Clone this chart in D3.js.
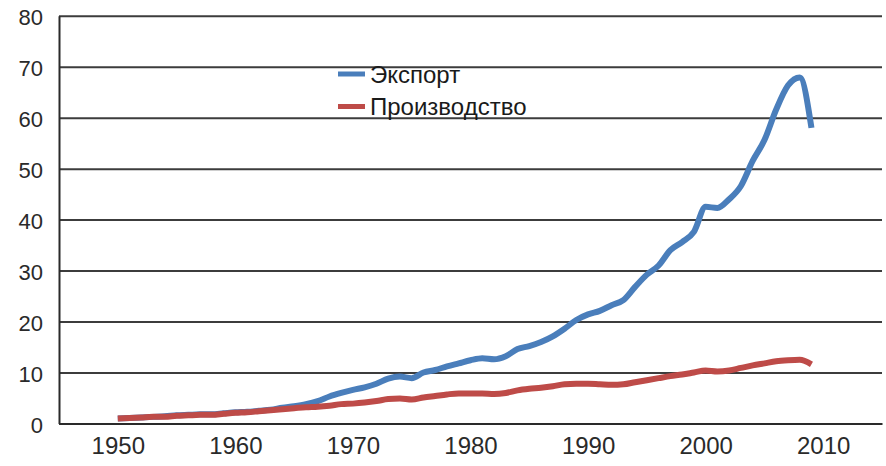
<!DOCTYPE html>
<html>
<head>
<meta charset="utf-8">
<script src="https://cdn.jsdelivr.net/npm/d3@7"></script>
<style>
  body { margin: 0; background: #fff; }
  svg { display: block; }
</style>
</head>
<body>
<svg id="chart" width="886" height="466"></svg>
<script>
// years and the two series (index, 1950 = 1)
const years = d3.range(1950, 2010);
const exportVals = [
  1.0, 1.1, 1.2, 1.3, 1.4, 1.6, 1.7, 1.8, 1.8, 2.0,
  2.2, 2.3, 2.5, 2.7, 3.1, 3.4, 3.8, 4.4, 5.3, 6.0,
  6.6, 7.1, 7.8, 8.8, 9.2, 8.9, 10.0, 10.5, 11.2, 11.8,
  12.4, 12.8, 12.6, 13.2, 14.6, 15.2, 16.0, 17.1, 18.6, 20.3,
  21.4, 22.1, 23.2, 24.2, 26.8, 29.2, 31.0, 34.0, 35.6, 37.6,
  42.5, 42.3, 44.0, 46.6, 51.5, 55.6, 61.6, 66.3, 67.9, 58.0
];
const productionVals = [
  1.0, 1.1, 1.2, 1.3, 1.3, 1.5, 1.6, 1.7, 1.7, 1.9,
  2.1, 2.2, 2.4, 2.6, 2.8, 3.0, 3.2, 3.3, 3.5, 3.8,
  3.9, 4.1, 4.4, 4.8, 4.9, 4.7, 5.1, 5.4, 5.7, 5.9,
  5.9, 5.9, 5.8, 6.0, 6.5, 6.8, 7.0, 7.3, 7.7, 7.8,
  7.8, 7.7, 7.6, 7.7, 8.1, 8.5, 8.9, 9.3, 9.6, 10.0,
  10.4, 10.2, 10.4, 10.9, 11.4, 11.8, 12.2, 12.4, 12.5, 11.6
];
const seriesNames = ["Экспорт", "Производство"];
const seriesColors = ["#4a7ebb", "#be4b48"];
const xTicks = [1950, 1960, 1970, 1980, 1990, 2000, 2010];
const yTicks = [0, 10, 20, 30, 40, 50, 60, 70, 80];

const svg = d3.select("#chart");
const font = "'Liberation Sans', Arial, sans-serif";

const x = d3.scaleLinear().domain([1945, 2015]).range([59, 882]);
const y = d3.scaleLinear().domain([0, 80]).range([423.5, 15.7]);

// horizontal grid
const grid = svg.append("g")
    .attr("transform", "translate(" + x.range()[0] + ",0)")
    .call(d3.axisLeft(y).tickValues(yTicks).tickSize(-(x.range()[1] - x.range()[0])).tickFormat(""));
grid.select(".domain").remove();
grid.selectAll("line")
    .attr("stroke", "#3c3c3c")
    .attr("stroke-width", 2);

// y axis
const yAxis = svg.append("g")
    .attr("transform", "translate(" + x.range()[0] + ",0)")
    .call(d3.axisLeft(y).tickValues(yTicks).tickSize(0).tickPadding(16));
yAxis.select(".domain").attr("stroke", "#2a2a2a").attr("stroke-width", 2);
yAxis.selectAll("text")
    .style("font-family", font)
    .style("font-size", "22px")
    .attr("fill", "#2a2a2a")
    .attr("dy", "0.4em");

// x axis
const xAxis = svg.append("g")
    .attr("transform", "translate(0," + y(0) + ")")
    .call(d3.axisBottom(x).tickValues(xTicks).tickSize(0).tickPadding(13).tickFormat(d3.format("d")));
xAxis.select(".domain").attr("stroke", "#2a2a2a").attr("stroke-width", 2);
xAxis.selectAll("text")
    .style("font-family", font)
    .style("font-size", "24px")
    .attr("fill", "#2a2a2a");

// lines
const line = d3.line()
    .x((d, i) => x(years[i]))
    .y(d => y(d))
    .curve(d3.curveMonotoneX);

[exportVals, productionVals].forEach(function(vals, k) {
    svg.append("path")
        .datum(vals)
        .attr("fill", "none")
        .attr("stroke", seriesColors[k])
        .attr("stroke-width", 6)
        .attr("stroke-linejoin", "round")
        .attr("d", line);
});

// legend
const legend = svg.append("g").attr("transform", "translate(338,74)");
seriesNames.forEach(function(name, k) {
    const row = legend.append("g").attr("transform", "translate(0," + (k * 32.5) + ")");
    row.append("line")
        .attr("x1", 0).attr("x2", 27)
        .attr("stroke", seriesColors[k])
        .attr("stroke-width", 5);
    row.append("text")
        .attr("x", 32)
        .attr("dy", "0.36em")
        .style("font-family", font)
        .style("font-size", "24px")
        .attr("fill", "#1a1a1a")
        .text(name);
});
</script>
</body>
</html>
